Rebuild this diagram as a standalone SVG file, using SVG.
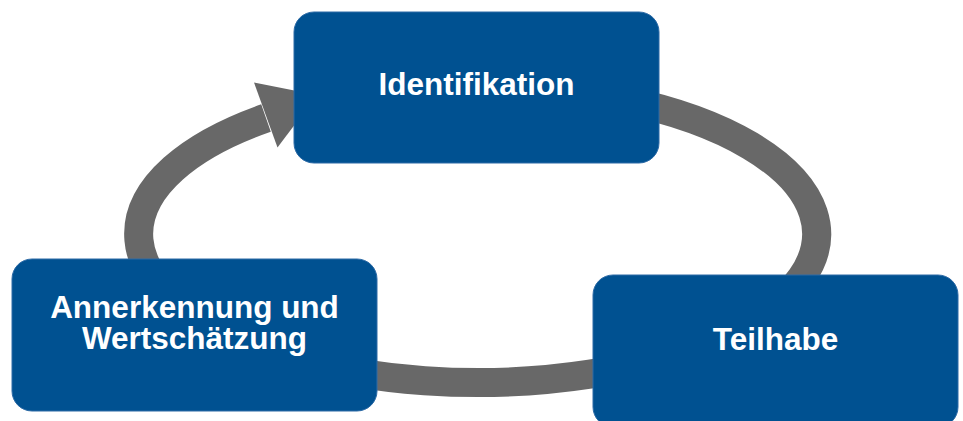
<svg xmlns="http://www.w3.org/2000/svg" width="963" height="421" viewBox="0 0 963 421">
  <style>
    .box { fill: #005191; stroke: #2c6aa6; stroke-width: 1; }
    .label { font-family: "Liberation Sans", Arial, sans-serif; font-weight: bold; font-size: 31.5px; fill: #ffffff; text-anchor: middle; }
    .ring { fill: none; stroke: #686868; stroke-width: 29; }
    .head { fill: #686868; }
  </style>
  <rect width="963" height="421" fill="#ffffff"/>
  <g id="connectors">
    <path class="ring" d="M 477.5 85.5 A 339 148.5 0 1 1 266 118"/>
    <polygon class="head" points="254,82.5 277.5,147.5 317,95"/>
  </g>
  <g id="node-identifikation">
    <rect class="box" x="294" y="12" width="365" height="151" rx="20" ry="20"/>
    <text class="label" x="476.5" y="94.5">Identifikation</text>
  </g>
  <g id="node-annerkennung">
    <rect class="box" x="12" y="259" width="365" height="152" rx="20" ry="20"/>
    <text class="label" x="194.5" y="317.5">Annerkennung und</text>
    <text class="label" x="194.5" y="348.5">Wertschätzung</text>
  </g>
  <g id="node-teilhabe">
    <rect class="box" x="593" y="275" width="365" height="152" rx="20" ry="20"/>
    <text class="label" x="775.5" y="350">Teilhabe</text>
  </g>
</svg>
